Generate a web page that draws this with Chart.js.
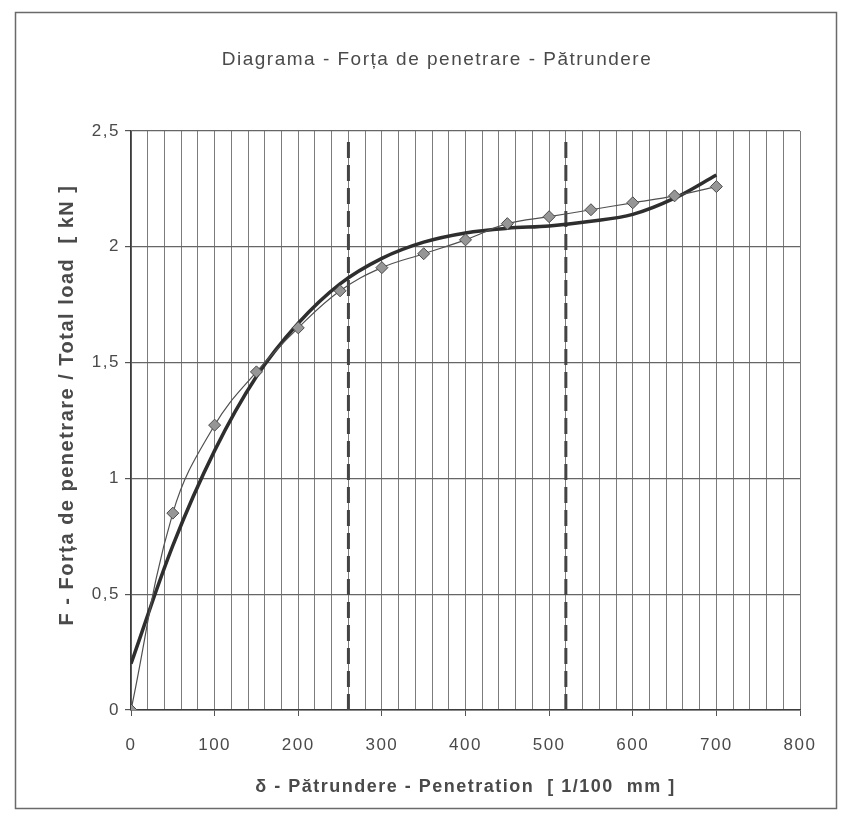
<!DOCTYPE html>
<html>
<head>
<meta charset="utf-8">
<script src="https://cdn.jsdelivr.net/npm/chart.js@4.4.1/dist/chart.umd.min.js"></script>
<style>
  html, body { margin: 0; padding: 0; background: #fff; }
  #wrap { width: 850px; height: 838px; }
</style>
</head>
<body>
<div id="wrap"><canvas id="penChart" width="850" height="838"></canvas></div>
<script>
// measured points (1/100 mm -> kN)
const penetration = [0, 50, 100, 150, 200, 250, 300, 350, 400, 450, 500, 550, 600, 650, 700];
const force = [0, 0.85, 1.23, 1.46, 1.65, 1.81, 1.91, 1.97, 2.03, 2.10, 2.13, 2.16, 2.19, 2.22, 2.26];

// thick trend curve
const trendX = [0, 50, 100, 150, 200, 250, 300, 350, 400, 450, 500, 550, 600, 650, 700];
const trendY = [0.20, 0.71, 1.12, 1.44, 1.67, 1.84, 1.95, 2.02, 2.06, 2.08, 2.09, 2.11, 2.14, 2.21, 2.31];

// dashed limit lines
const limitX = [260, 520];
const limitTop = 2.46;

const yTicks = [0, 0.5, 1, 1.5, 2, 2.5];

const FONT = '"Liberation Sans", Arial, sans-serif';
const TEXT = '#4a4a4a';

const pts = (xs, ys) => xs.map((x, i) => ({ x: x, y: ys[i] }));

// outer frame, chart title and y title (the scan's text looks wide)
const framePlugin = {
    id: 'frame',
    beforeDraw(chart) {
        const ctx = chart.ctx;
        ctx.save();
        ctx.strokeStyle = '#6a6a6a';
        ctx.lineWidth = 1.5;
        ctx.strokeRect(15.5, 12.5, 821, 796);
        ctx.restore();
        ctx.letterSpacing = '1.5px';
    },
    afterDraw(chart) {
        const ctx = chart.ctx;
        ctx.save();
        ctx.fillStyle = TEXT;
        ctx.textAlign = 'center';
        ctx.textBaseline = 'middle';
        ctx.font = '19px ' + FONT;
        ctx.fillText('Diagrama - Forța de penetrare - Pătrundere', 437, 60);
        ctx.translate(67, 405);
        ctx.rotate(-Math.PI / 2);
        ctx.font = 'bold 20px ' + FONT;
        ctx.fillText('F - Forța de penetrare / Total load  [ kN ]', 0, 0);
        ctx.restore();
    }
};

const datasets = [
    {
        label: 'measured',
        data: pts(penetration, force),
        showLine: true,
        tension: 0.4,
        borderColor: '#505050',
        borderWidth: 1.2,
        pointStyle: 'rectRot',
        pointRadius: 6,
        pointBackgroundColor: '#969696',
        pointBorderColor: '#4a4a4a',
        pointBorderWidth: 1,
        order: 0
    },
    {
        label: 'trend',
        data: pts(trendX, trendY),
        showLine: true,
        tension: 0.35,
        borderColor: '#2e2e2e',
        borderWidth: 3.5,
        pointRadius: 0,
        order: 1
    }
];
limitX.forEach(x => {
    datasets.push({
        label: 'limit ' + x,
        data: [{ x: x, y: 0 }, { x: x, y: limitTop }],
        showLine: true,
        borderColor: '#444',
        borderWidth: 3,
        borderDash: [16, 7],
        pointRadius: 0,
        order: 2
    });
});

new Chart(document.getElementById('penChart'), {
    type: 'scatter',
    data: { datasets: datasets },
    options: {
        responsive: false,
        animation: false,
        layout: { padding: { top: 131, right: 50, left: 0, bottom: 0 } },
        plugins: {
            legend: { display: false },
            tooltip: { enabled: false }
        },
        scales: {
            x: {
                type: 'linear',
                min: 0,
                max: 800,
                afterFit: s => { s.height = 128; },
                ticks: {
                    stepSize: 20,
                    autoSkip: false,
                    maxRotation: 0,
                    padding: 19,
                    color: TEXT,
                    font: { family: FONT, size: 17 },
                    callback: v => (v % 100 === 0 ? String(v) : '')
                },
                grid: {
                    color: '#7c7c7c',
                    lineWidth: 1,
                    tickLength: 6,
                    tickColor: c => (c.tick && c.tick.value % 100 === 0 ? '#555' : 'rgba(0,0,0,0)')
                },
                border: { color: '#3c3c3c', width: 1.5 },
                title: {
                    display: true,
                    text: 'δ - Pătrundere - Penetration  [ 1/100  mm ]',
                    color: TEXT,
                    font: { family: FONT, size: 18, weight: 'bold' },
                    padding: { top: 0, bottom: 40 }
                }
            },
            y: {
                min: 0,
                max: 2.5,
                afterFit: s => { s.width = 131; },
                afterBuildTicks: s => { s.ticks = yTicks.map(v => ({ value: v })); },
                ticks: {
                    padding: 5,
                    color: TEXT,
                    font: { family: FONT, size: 17 },
                    callback: v => String(v).replace('.', ',')
                },
                grid: {
                    color: '#666',
                    lineWidth: 1.2,
                    tickLength: 6,
                    tickColor: '#555'
                },
                border: { color: '#3c3c3c', width: 1.5 },
                title: { display: false }
            }
        }
    },
    plugins: [framePlugin]
});
</script>
</body>
</html>
